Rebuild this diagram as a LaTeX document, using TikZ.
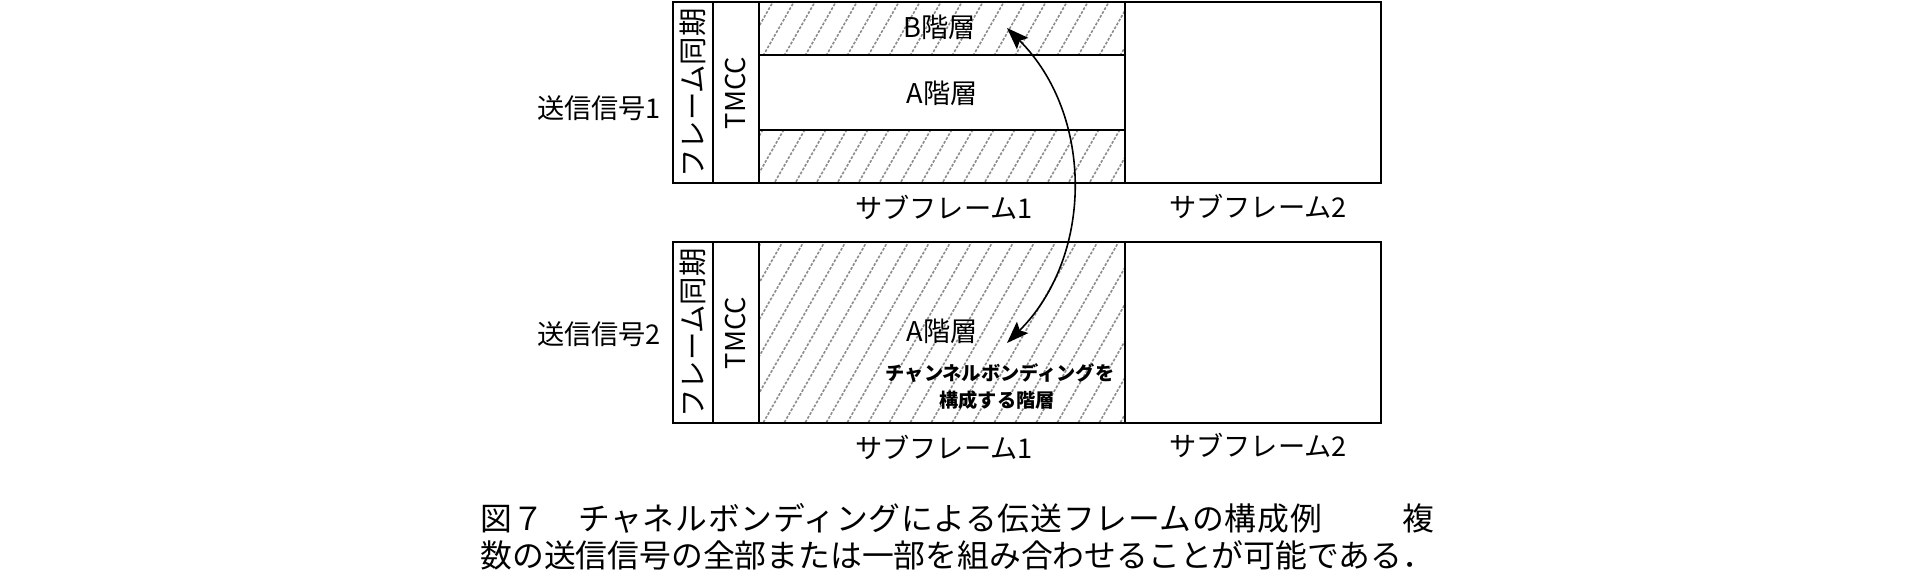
\documentclass[tikz,border=0pt]{standalone}
\usepackage{fontspec}
\setmainfont{Noto Sans CJK JP}
\usetikzlibrary{arrows.meta}
\tikzset{
  frame/.style={line width=1.1pt, draw=black},
  hatchline/.style={draw=black!45, line width=0.8pt, dash pattern=on 1.4pt off 0.8pt},
  lbl/.style={font=\fontsize{13.6}{15}\selectfont, inner sep=0pt},
  vlbl/.style={lbl, rotate=90},
  synclbl/.style={font=\fontsize{14.2}{16}\selectfont, inner sep=0pt, rotate=90},
  bondtxt/.style={font=\bfseries\fontsize{9.6}{11}\selectfont, inner sep=0pt},
  captxt/.style={font=\fontsize{15.9}{18}\selectfont, inner sep=0pt},
  bond/.style={line width=0.8pt, {Stealth[length=11pt,width=8pt,inset=2pt]}-{Stealth[length=11pt,width=8pt,inset=2pt]}},
}
\begin{document}
\begin{tikzpicture}[x=0.5pt,y=-0.5pt]
\useasboundingbox (0,0) rectangle (1920,574);
% hatching
\begin{scope}
  \clip (759,2) rectangle (1125,55) (759,130) rectangle (1125,183) (759,242) rectangle (1125,423);
  \foreach \i in {-13,...,19} \draw[hatchline] (759+21*\i,430) -- ++(246,-430);
\end{scope}
% frame 1
\draw[frame] (673,2) rectangle (1381,183);
\draw[frame] (713,2) -- (713,183);
\draw[frame] (759,2) -- (759,183);
\draw[frame] (1125,2) -- (1125,183);
\draw[frame] (759,55) -- (1125,55);
\draw[frame] (759,130) -- (1125,130);
% frame 2
\draw[frame] (673,242) rectangle (1381,423);
\draw[frame] (713,242) -- (713,423);
\draw[frame] (759,242) -- (759,423);
\draw[frame] (1125,242) -- (1125,423);
% labels
\node[lbl] (sig1) at (599,108) {送信信号1};
\node[lbl] (sig2) at (599,334) {送信信号2};
\node[synclbl] (sync1) at (693,93) {フレーム同期};
\node[vlbl] (tmcc1) at (736,93) {TMCC};
\node[synclbl] (sync2) at (693,333) {フレーム同期};
\node[vlbl] (tmcc2) at (736,333) {TMCC};
\node[lbl] (blay) at (940,27) {B階層};
\node[lbl] (alay1) at (942,93) {A階層};
\node[lbl] (alay2) at (942,331) {A階層};
\node[bondtxt] (bond1) at (1000,373) {チャンネルボンディングを};
\node[bondtxt] (bond2) at (997,400) {構成する階層};
\node[lbl] (sf11) at (944,207) {サブフレーム1};
\node[lbl] (sf12) at (1258,206) {サブフレーム2};
\node[lbl] (sf21) at (944,447) {サブフレーム1};
\node[lbl] (sf22) at (1258,445) {サブフレーム2};
% arrow
\coordinate (tipB) at (1007,28);
\coordinate (tipA) at (1007,343);
\draw[bond] (tipA) to[bend right=45] (tipB);
% caption
\node[captxt, anchor=west] (cap1) at (480,518) {\addfontfeature{LetterSpace=2.4}図７　チャネルボンディングによる伝送フレームの構成例};
\node[captxt, anchor=east] (cap1b) at (1435,518) {複};
\node[captxt, anchor=west] (cap2) at (480,555) {数の送信信号の全部または一部を組み合わせることが可能である．};
\end{tikzpicture}
\end{document}
